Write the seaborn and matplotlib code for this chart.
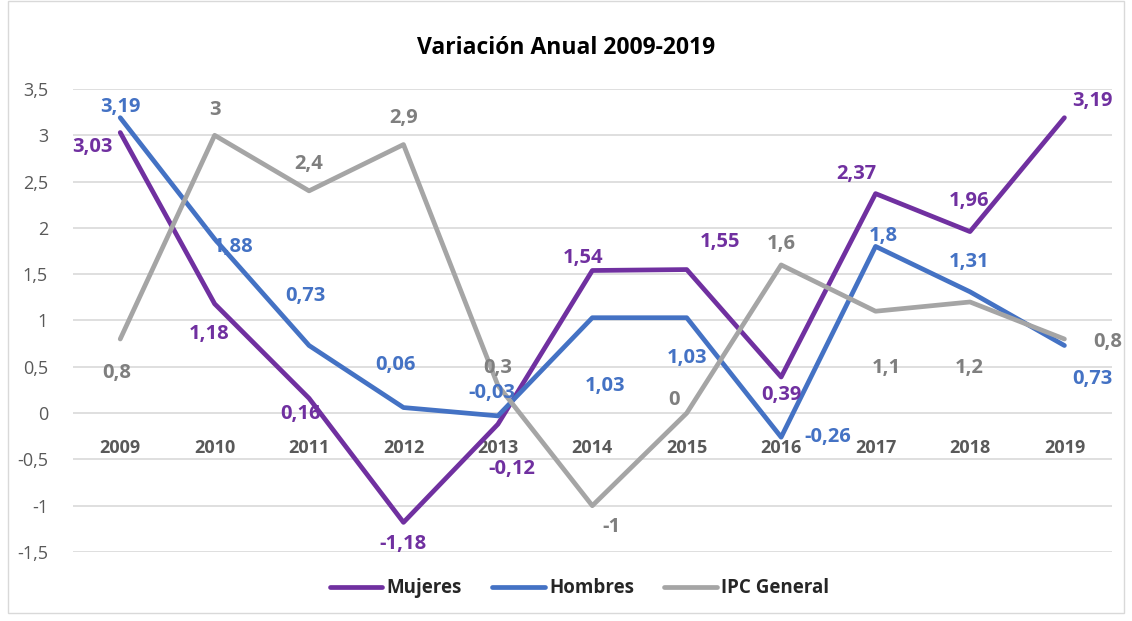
import pandas as pd
import seaborn as sns
from matplotlib import pyplot as plt
from matplotlib.patches import Rectangle

# datos
years = ['2009', '2010', '2011', '2012', '2013', '2014', '2015', '2016', '2017', '2018', '2019']
mujeres = [3.03, 1.18, 0.16, -1.18, -0.12, 1.54, 1.55, 0.39, 2.37, 1.96, 3.19]
hombres = [3.19, 1.88, 0.73, 0.06, -0.03, 1.03, 1.03, -0.26, 1.8, 1.31, 0.73]
ipc = [0.8, 3, 2.4, 2.9, 0.3, -1, 0, 1.6, 1.1, 1.2, 0.8]
series = ['Mujeres', 'Hombres', 'IPC General']
colors = ['#7030A0', '#4472C4', '#A5A5A5']
label_colors = ['#7030A0', '#4472C4', '#7F7F7F']

# desplazamiento de las etiquetas (pixeles)
offs = {
    'Mujeres': [(-28, -14), (-6, -30), (-9, -16), (0, -22), (14, -45), (-9, 12), (33, 28), (0, -18), (-19, 20), (-1, 31), (28, 17)],
    'Hombres': [(0, 11), (18, -8), (-4, 50), (-8, 43), (-6, 23), (13, -68), (0, -40), (47, 0), (8, 10), (-1, 30), (28, -33)],
    'IPC General': [(-3, -34), (0, 25), (0, 27), (0, 27), (0, 17), (19, -21), (-13, 13), (0, 21), (11, -57), (-1, -66), (43, -3)],
}

df = pd.DataFrame({'x': list(range(len(years))) * 3,
                   'valor': mujeres + hombres + ipc,
                   'serie': [s for s in series for _ in years]})

sns.set_style('white')
plt.rcParams['font.family'] = ['Open Sans', 'DejaVu Sans']

fig = plt.figure(figsize=(11.32, 6.21), dpi=100)
ax = fig.add_axes([0.0645, 0.1111, 0.9175, 0.7456])
sns.lineplot(data=df, x='x', y='valor', hue='serie', palette=colors, linewidth=3.4,
             solid_capstyle='round', ax=ax, legend=False)

for s, c in zip(series, label_colors):
    vals = df[df['serie'] == s]
    for (i, v), (dx, dy) in zip(zip(vals['x'], vals['valor']), offs[s]):
        txt = ('%g' % v).replace('.', ',')
        ax.annotate(txt, xy=(i, v), xytext=(dx, dy), textcoords='offset pixels',
                    ha='center', va='center', color=c, fontsize=14.5, fontweight='bold')

ax.set_xlim(-0.5, len(years) - 0.5)
ax.set_ylim(-1.5, 3.5)
ax.spines['bottom'].set_position(('data', 0))
for sp in ax.spines.values():
    sp.set_visible(False)
yt = [-1.5, -1, -0.5, 0, 0.5, 1, 1.5, 2, 2.5, 3, 3.5]
ax.set_yticks(yt)
ax.set_yticklabels([('%g' % t).replace('.', ',') for t in yt], color='#595959', fontsize=13)
ax.set_xticks(range(len(years)))
ax.set_xticklabels(years, color='#595959', fontsize=13, fontweight='bold')
ax.tick_params(axis='both', length=0)
ax.tick_params(axis='x', pad=19)
ax.tick_params(axis='y', pad=18)
ax.grid(axis='y', color='#D9D9D9', linewidth=1.2)
ax.set_axisbelow(True)
ax.set_xlabel('')
ax.set_ylabel('')

fig.text(0.5, 0.923, 'Variación Anual 2009-2019', ha='center', va='center',
         fontsize=16.5, fontweight='bold', color='black')

handles = [plt.Line2D([], [], color=c, linewidth=3.4, solid_capstyle='round') for c in colors]
leg = fig.legend(handles, series, loc='center', bbox_to_anchor=(0.512, 0.053), ncol=3, frameon=False,
                 prop={'size': 13.5, 'weight': 'bold'}, handlelength=2.8, handletextpad=0.25, columnspacing=1.6)

fig.patches.append(Rectangle((0.007, 0.013), 0.986, 0.985, transform=fig.transFigure,
                             fill=False, edgecolor='#D9D9D9', linewidth=1))

fig.savefig('out.png', dpi=100)
